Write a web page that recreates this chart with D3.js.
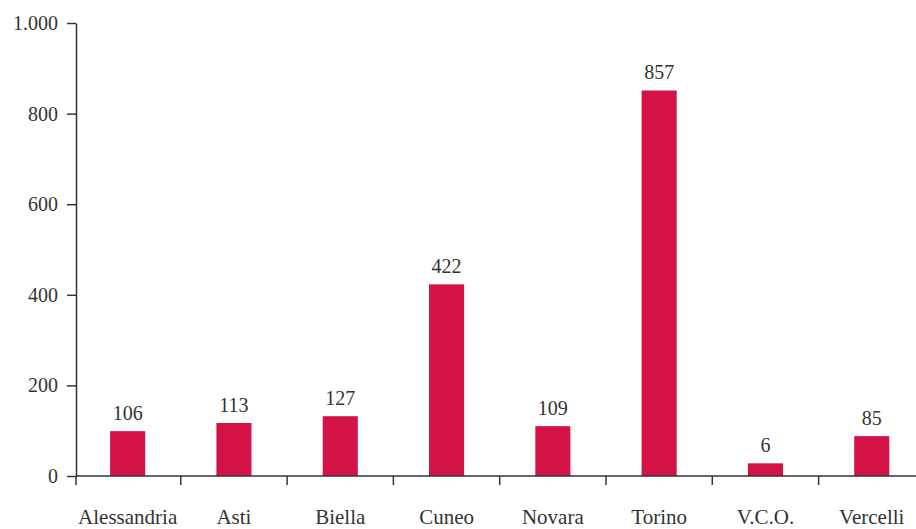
<!DOCTYPE html>
<html>
<head>
<meta charset="utf-8">
<script src="https://cdn.jsdelivr.net/npm/d3@7"></script>
<style>
  html, body { margin: 0; padding: 0; background: #fff; }
  svg { display: block; }
  text { font-family: "Liberation Serif", "DejaVu Serif", serif; fill: #333; }
</style>
</head>
<body>
<svg id="chart" width="916" height="529"></svg>
<script>
// Data
const categories = ["Alessandria", "Asti", "Biella", "Cuneo", "Novara", "Torino", "V.C.O.", "Vercelli"];
// bar heights as drawn in the picture
const barValues = [99, 117, 132, 423, 110, 851, 28, 88];
// value labels printed above the bars
const labelValues = [106, 113, 127, 422, 109, 857, 6, 85];
const yTicks = [0, 200, 400, 600, 800, 1000];

(function () {
const svg = d3.select("#chart");
const W = 916;
const mLeft = 76, yBottom = 476, yTop = 23;
const bandStart = 74.5, step = 106.3;

const x = d3.scaleBand()
  .domain(categories)
  .range([bandStart, bandStart + step * categories.length])
  .paddingInner(0.67)
  .paddingOuter(0.335);

const y = d3.scaleLinear().domain([0, 1000]).range([yBottom, yTop]);

const locale = d3.formatLocale({ decimal: ",", thousands: ".", grouping: [3], currency: ["", "€"] });
const fmt = locale.format(",");

const barColor = "#d31245";
const axisColor = "#333";

// bars
svg.append("g").selectAll("rect")
  .data(categories)
  .join("rect")
  .attr("x", d => x(d))
  .attr("width", x.bandwidth())
  .attr("y", (d, i) => y(barValues[i]))
  .attr("height", (d, i) => y(0) - y(barValues[i]))
  .attr("fill", barColor);

// value labels
svg.append("g").selectAll("text")
  .data(categories)
  .join("text")
  .attr("x", d => x(d) + x.bandwidth() / 2)
  .attr("y", (d, i) => y(barValues[i]) - 11)
  .attr("text-anchor", "middle")
  .attr("font-size", 20)
  .text((d, i) => labelValues[i]);

// y axis
const yAxis = svg.append("g")
  .attr("transform", `translate(${mLeft},0)`)
  .call(d3.axisLeft(y).tickValues(yTicks).tickFormat(fmt).tickSize(9).tickSizeOuter(0).tickPadding(9));
yAxis.select(".domain").attr("stroke", axisColor).attr("stroke-width", 1.5);
yAxis.selectAll(".tick line").attr("stroke", axisColor).attr("stroke-width", 1.5);
yAxis.selectAll(".tick text")
  .attr("font-size", 20)
  .attr("font-family", "Liberation Serif, serif")
  .attr("fill", "#333");

// x axis: baseline, boundary ticks, category labels
const xg = svg.append("g");
xg.append("line")
  .attr("x1", mLeft).attr("x2", W)
  .attr("y1", y(0)).attr("y2", y(0))
  .attr("stroke", axisColor).attr("stroke-width", 1.5);
const gap = (x.step() - x.bandwidth()) / 2;
const bounds = categories.map(c => Math.max(mLeft, x(c) - gap));
bounds.push(x(categories[categories.length - 1]) + x.bandwidth() + gap);
xg.selectAll("line.tick")
  .data(bounds.filter(v => v <= W))
  .join("line")
  .attr("class", "tick")
  .attr("x1", d => d).attr("x2", d => d)
  .attr("y1", y(0)).attr("y2", y(0) + 9)
  .attr("stroke", axisColor).attr("stroke-width", 1.5);
xg.selectAll("text")
  .data(categories)
  .join("text")
  .attr("x", d => x(d) + x.bandwidth() / 2)
  .attr("y", 524)
  .attr("text-anchor", "middle")
  .attr("font-size", 21)
  .text(d => d);
})();
</script>
</body>
</html>
